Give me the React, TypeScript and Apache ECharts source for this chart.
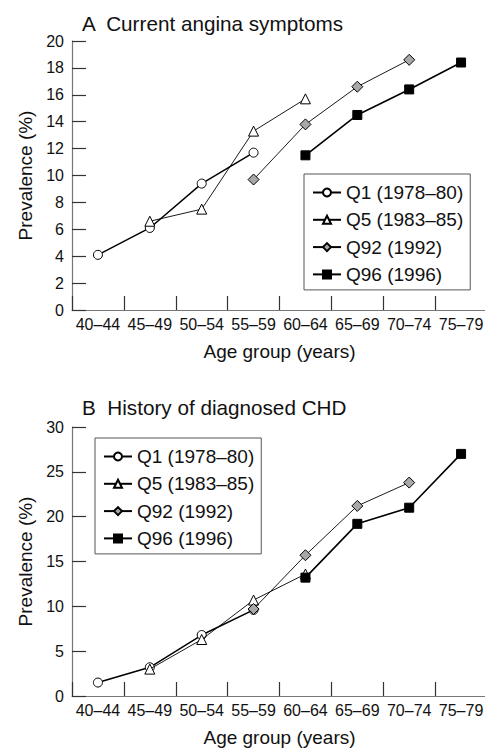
import React, { useEffect, useRef } from "react";
import * as echarts from "echarts";

const categories = ["40–44", "45–49", "50–54", "55–59", "60–64", "65–69", "70–74", "75–79"];
const seriesNames = ["Q1 (1978–80)", "Q5 (1983–85)", "Q92 (1992)", "Q96 (1996)"];

const anginaQ1 = [4.1, 6.1, 9.4, 11.7, null, null, null, null];
const anginaQ5 = [null, 6.6, 7.5, 13.3, 15.7, null, null, null];
const anginaQ92 = [null, null, null, 9.7, 13.8, 16.6, 18.6, null];
const anginaQ96 = [null, null, null, null, 11.5, 14.5, 16.4, 18.4];

const chdQ1 = [1.5, 3.2, 6.8, 9.6, null, null, null, null];
const chdQ5 = [null, 3.0, 6.3, 10.7, 13.6, null, null, null];
const chdQ92 = [null, null, null, 9.7, 15.7, 21.2, 23.8, null];
const chdQ96 = [null, null, null, null, 13.2, 19.2, 21.0, 27.0];

const titleA = "A  Current angina symptoms";
const titleB = "B  History of diagnosed CHD";
const xName = "Age group (years)";
const yName = "Prevalence (%)";

const FONT = "'Liberation Sans', Arial, Helvetica, sans-serif";

const styles = [
  { symbol: "circle", symbolSize: 9, fill: "#ffffff", lw: 1.5 },
  { symbol: "triangle", symbolSize: 10, fill: "#ffffff", lw: 0.9 },
  { symbol: "diamond", symbolSize: 11, fill: "#a8a8a8", lw: 0.9 },
  { symbol: "rect", symbolSize: 9, fill: "#000000", lw: 1.6 },
];

export default function App() {
  const ref = useRef<HTMLDivElement>(null);
  useEffect(() => {
    if (!ref.current) return;
    const chart = echarts.init(ref.current, null, { renderer: "svg" });
    const gridLeft = 72;
    const gridWidth = 415;
    const gridH = 269;
    const topA = 41;
    const topB = 427;

    const xAxisBase = (gi: number) => ({
      type: "category",
      gridIndex: gi,
      data: categories,
      boundaryGap: true,
      name: xName,
      nameLocation: "middle",
      nameGap: 32,
      nameTextStyle: { fontSize: 19, color: "#111", fontFamily: FONT },
      axisLine: { show: true, lineStyle: { color: "#777", width: 1.2 } },
      axisTick: { show: true, alignWithLabel: false, interval: 0, inside: true, length: 14, lineStyle: { color: "#333", width: 1.2 } },
      axisLabel: { show: true, fontSize: 16, color: "#111", fontFamily: FONT, margin: 6, interval: 0 },
      splitLine: { show: false },
    });
    const yAxisBase = (gi: number, max: number, interval: number) => ({
      type: "value",
      gridIndex: gi,
      min: 0,
      max,
      interval,
      name: yName,
      nameLocation: "middle",
      nameGap: 37,
      nameTextStyle: { fontSize: 19, color: "#111", fontFamily: FONT },
      axisLine: { show: true, lineStyle: { color: "#777", width: 1.2 } },
      axisTick: { show: true, inside: true, length: 14, lineStyle: { color: "#333", width: 1.2 } },
      axisLabel: { fontSize: 16, color: "#111", fontFamily: FONT, margin: 8 },
      splitLine: { show: false },
    });

    const mk = (gi: number, idx: number, data: (number | null)[]) => {
      const s = styles[idx];
      return {
        type: "line",
        name: seriesNames[idx],
        xAxisIndex: gi,
        yAxisIndex: gi,
        data,
        symbol: s.symbol,
        symbolSize: s.symbolSize,
        showSymbol: true,
        connectNulls: false,
        lineStyle: { color: "#000", width: s.lw },
        itemStyle: { color: s.fill, borderColor: "#000", borderWidth: 1 },
        emphasis: { disabled: true },
        z: 2 + idx,
      };
    };

    const legendBase = (left: number, top: number) => ({
      orient: "vertical",
      left,
      top,
      data: seriesNames,
      itemWidth: 28,
      itemHeight: 10,
      itemGap: 8.3,
      padding: [9, 7, 6, 8],
      borderColor: "#555",
      borderWidth: 1,
      selectedMode: false,
      textStyle: { fontSize: 19, color: "#111", fontFamily: FONT },
    });

    chart.setOption({
      animation: false,
      title: [
        { text: titleA, left: 82, top: 13, padding: 0, textStyle: { fontSize: 20.7, fontWeight: "normal", color: "#111", fontFamily: FONT } },
        { text: titleB, left: 82, top: 397, padding: 0, textStyle: { fontSize: 20.7, fontWeight: "normal", color: "#111", fontFamily: FONT } },
      ],
      legend: [legendBase(304, 174), legendBase(95, 438)],
      grid: [
        { left: gridLeft, top: topA, width: gridWidth, height: gridH, containLabel: false, outerBoundsMode: "none" },
        { left: gridLeft, top: topB, width: gridWidth, height: gridH, containLabel: false, outerBoundsMode: "none" },
      ],
      xAxis: [xAxisBase(0), xAxisBase(1)],
      yAxis: [yAxisBase(0, 20, 2), yAxisBase(1, 30, 5)],
      series: [
        mk(0, 0, anginaQ1),
        mk(0, 1, anginaQ5),
        mk(0, 2, anginaQ92),
        mk(0, 3, anginaQ96),
        mk(1, 0, chdQ1),
        mk(1, 1, chdQ5),
        mk(1, 2, chdQ92),
        mk(1, 3, chdQ96),
      ],
    });
    return () => chart.dispose();
  }, []);
  return (
    <div
      ref={ref}
      style={{ position: "fixed", left: 0, top: 0, width: 485, height: 748, background: "#fff" }}
    />
  );
}
